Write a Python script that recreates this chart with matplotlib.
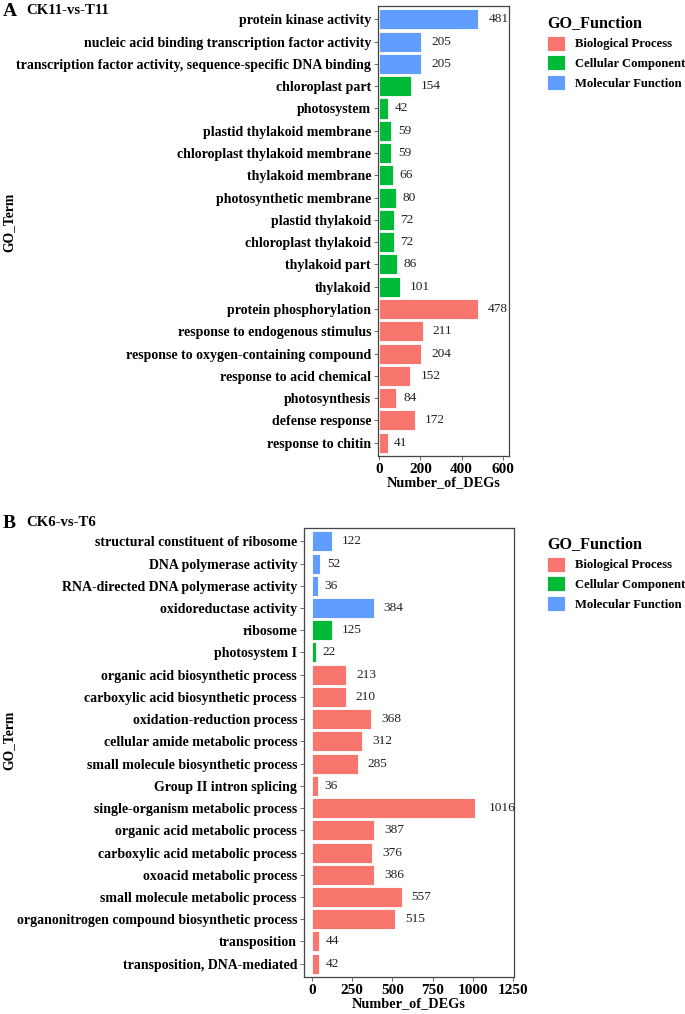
import matplotlib
matplotlib.use("Agg")
import matplotlib.pyplot as plt
from matplotlib.patches import Patch

plt.rcParams["font.family"] = ["Liberation Serif", "DejaVu Serif"]

colors = {"BP": "#F8766D", "CC": "#00BA38", "MF": "#619CFF"}
names = {"BP": "Biological Process", "CC": "Cellular Component", "MF": "Molecular Function"}

# panel A: CK11-vs-T11, listed top to bottom
terms_a = [
    "protein kinase activity",
    "nucleic acid binding transcription factor activity",
    "transcription factor activity, sequence-specific DNA binding",
    "chloroplast part",
    "photosystem",
    "plastid thylakoid membrane",
    "chloroplast thylakoid membrane",
    "thylakoid membrane",
    "photosynthetic membrane",
    "plastid thylakoid",
    "chloroplast thylakoid",
    "thylakoid part",
    "thylakoid",
    "protein phosphorylation",
    "response to endogenous stimulus",
    "response to oxygen-containing compound",
    "response to acid chemical",
    "photosynthesis",
    "defense response",
    "response to chitin",
]
counts_a = [481, 205, 205, 154, 42, 59, 59, 66, 80, 72, 72, 86, 101,
            478, 211, 204, 152, 84, 172, 41]
groups_a = ["MF"] * 3 + ["CC"] * 10 + ["BP"] * 7

# panel B: CK6-vs-T6
terms_b = [
    "structural constituent of ribosome",
    "DNA polymerase activity",
    "RNA-directed DNA polymerase activity",
    "oxidoreductase activity",
    "ribosome",
    "photosystem I",
    "organic acid biosynthetic process",
    "carboxylic acid biosynthetic process",
    "oxidation-reduction process",
    "cellular amide metabolic process",
    "small molecule biosynthetic process",
    "Group II intron splicing",
    "single-organism metabolic process",
    "organic acid metabolic process",
    "carboxylic acid metabolic process",
    "oxoacid metabolic process",
    "small molecule metabolic process",
    "organonitrogen compound biosynthetic process",
    "transposition",
    "transposition, DNA-mediated",
]
counts_b = [122, 52, 36, 384, 125, 22, 213, 210, 368, 312, 285, 36,
            1016, 387, 376, 386, 557, 515, 44, 42]
groups_b = ["MF"] * 4 + ["CC"] * 2 + ["BP"] * 14

xticks_a = [0, 200, 400, 600]
xticks_b = [0, 250, 500, 750, 1000, 1250]

W, H = 685, 1014
fig = plt.figure(figsize=(W / 100, H / 100), dpi=100)


def panel(rect, terms, counts, groups, xlim, xticks):
    ax = fig.add_axes(rect)
    n = len(terms)
    ypos = list(range(n))[::-1]
    ax.barh(ypos, counts, height=0.9, color=[colors[g] for g in groups],
            edgecolor="white", linewidth=0.6)
    for y, v in zip(ypos, counts):
        ax.annotate(str(v), (v, y), xytext=(2.4 * len(str(v)), 0),
                    textcoords="offset points", va="center", ha="left",
                    fontsize=9.6, color="#222222")
    ax.set_ylim(-0.6, n - 0.4)
    ax.set_xlim(*xlim)
    ax.set_yticks(ypos)
    ax.set_yticklabels(terms, fontsize=10, fontweight="bold")
    ax.set_xticks(xticks)
    ax.set_xticklabels([str(t) for t in xticks], fontsize=11, fontweight="bold")
    ax.tick_params(length=3, width=0.6, color="#555555", pad=2)
    for s in ax.spines.values():
        s.set_color("#444444")
        s.set_linewidth(0.9)
    ax.set_xlabel("Number_of_DEGs", fontsize=10.3, fontweight="bold", labelpad=0)
    return ax


def fx(px):
    return px / W


def fy(py):
    return 1 - py / H


panel([fx(378), fy(456), fx(509 - 378), (456 - 6) / H],
      terms_a, counts_a, groups_a, (-5, 629), xticks_a)
panel([fx(304), fy(977), fx(514 - 304), (977 - 528) / H],
      terms_b, counts_b, groups_b, (-50, 1256), xticks_b)

# panel letters and titles
fig.text(fx(3), fy(11), "A", fontsize=14, fontweight="bold", va="center")
fig.text(fx(26), fy(11), "CK11-vs-T11", fontsize=10.6, fontweight="bold", va="center")
fig.text(fx(3), fy(523), "B", fontsize=14, fontweight="bold", va="center")
fig.text(fx(26), fy(523), "CK6-vs-T6", fontsize=10.6, fontweight="bold", va="center")

fig.text(fx(9), fy(222), "GO_Term", rotation=90, fontsize=9.8, fontweight="bold",
         va="center", ha="center")
fig.text(fx(9), fy(740), "GO_Term", rotation=90, fontsize=9.8, fontweight="bold",
         va="center", ha="center")

handles = [Patch(facecolor=colors[k], edgecolor="white", linewidth=0.6)
           for k in ["BP", "CC", "MF"]]
labels = [names[k] for k in ["BP", "CC", "MF"]]
for top in [6, 527]:
    leg = fig.legend(handles, labels, title="GO_Function", loc="upper left",
                     bbox_to_anchor=(fx(538), fy(top)), frameon=False,
                     prop={"weight": "bold", "size": 9.1},
                     title_fontproperties={"weight": "bold", "size": 11.6},
                     handlelength=1.45, handleheight=1.45, handletextpad=0.75,
                     labelspacing=0.38, borderpad=0.2)
    leg._legend_box.align = "left"

fig.savefig("out.png", dpi=100)
